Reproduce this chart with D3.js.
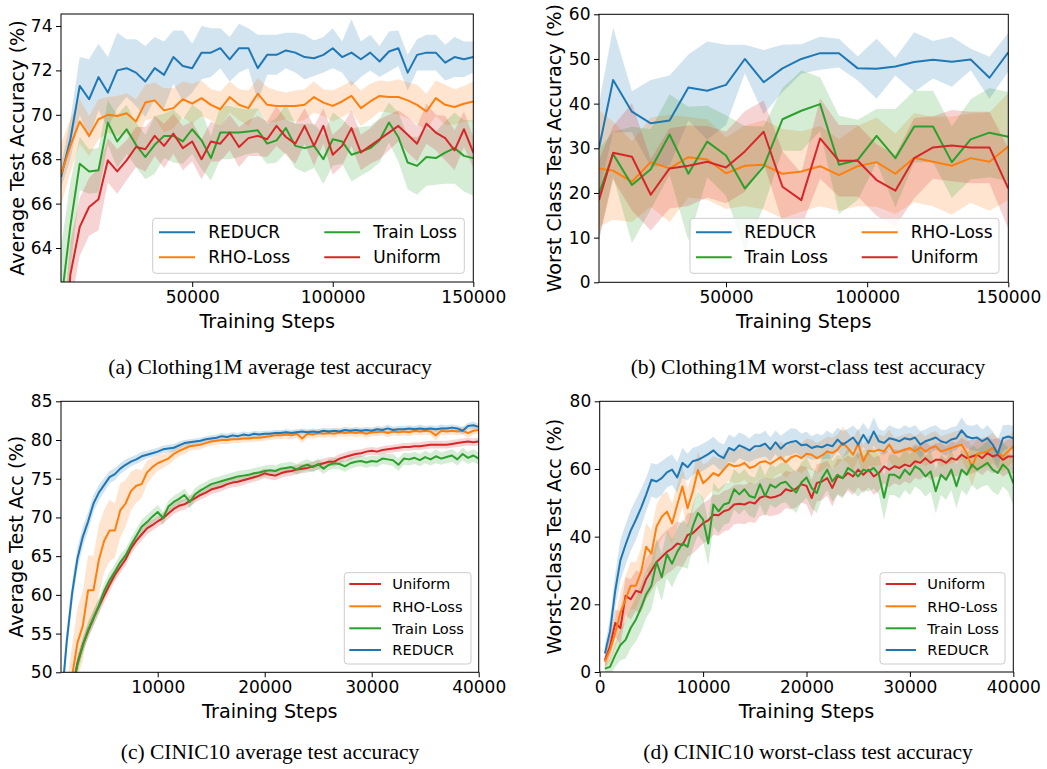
<!DOCTYPE html>
<html><head><meta charset="utf-8">
<script src="https://cdn.jsdelivr.net/npm/d3@7"></script>
<style>body{margin:0;background:#fff}svg{display:block}</style>
</head><body>
<svg id="c" width="1047" height="769"></svg>
<script>
// ---------------- DATA ----------------
const methods = ["REDUCR", "RHO-Loss", "Train Loss", "Uniform"];
const colors = ["#1f77b4", "#ff7f0e", "#2ca02c", "#d62728"];

// (a) Clothing1M average test accuracy
const stepsA = [3333,6667,10000,13333,16667,20000,23333,26667,30000,33333,36667,40000,43333,46667,50000,53333,56667,60000,63333,66667,70000,73333,76667,80000,83333,86667,90000,93333,96667,100000,103333,106667,110000,113333,116667,120000,123333,126667,130000,133333,136667,140000,143333,146667,150000];
const reducrA = [67.2,68.9,71.3,70.7,71.7,71.0,72.0,72.1,71.9,71.5,72.1,71.8,72.6,72.2,72.1,72.8,72.8,73.0,72.5,73.0,73.0,72.1,72.7,72.7,72.9,72.8,72.6,72.55,72.7,73.0,72.6,72.8,72.5,72.8,72.4,72.85,73.0,71.9,72.7,72.8,72.8,72.35,72.6,72.5,72.6];
const reducrA_sd = [0.5,0.9,1.3,1.8,1.5,1.6,1.7,1.3,1.5,1.6,1.4,1.5,1.2,1.6,1.1,1.2,1.1,0.9,1.0,1.1,0.9,1.5,0.9,0.9,0.8,0.9,1.0,0.8,0.8,0.9,0.7,1.5,0.8,0.8,0.7,0.9,0.8,0.8,0.7,0.8,0.8,0.8,0.9,0.8,0.7];
const rhoA = [67.3,68.6,69.7,69.05,69.8,70.0,69.95,70.07,69.7,70.55,70.65,70.2,70.3,70.7,70.5,70.75,70.45,70.25,70.8,70.45,70.3,70.95,70.45,70.4,70.4,70.4,70.45,70.8,70.55,70.4,70.6,70.85,70.3,70.6,70.85,70.8,70.8,70.65,70.45,70.15,70.75,70.45,70.35,70.5,70.6];
const rhoA_sd = [1.4,1.2,1.0,0.9,0.9,0.8,0.9,0.9,1.0,0.8,0.8,1.0,0.9,0.8,0.9,0.8,0.7,0.8,0.7,0.7,0.8,0.7,0.8,0.7,0.6,0.7,0.7,0.7,0.6,0.7,0.7,0.7,0.8,0.8,0.7,0.7,0.8,0.8,0.9,0.8,0.8,0.9,0.8,0.8,0.9];
const trainA = [61.5,65.0,67.8,67.45,67.5,69.65,68.8,69.35,68.65,68.1,68.65,69.05,69.05,68.8,69.35,68.85,68.05,69.2,69.2,69.2,69.25,69.3,68.7,68.85,69.4,68.6,68.5,68.6,68.0,68.9,68.8,68.2,68.35,68.5,68.85,69.65,69.0,67.85,67.7,68.1,68.05,68.3,68.5,68.15,68.05];
const trainA_sd = [2.5,2.0,1.2,1.0,1.0,1.0,1.2,1.1,1.0,1.0,1.3,1.0,1.2,1.0,1.1,1.3,1.0,1.2,1.2,1.1,1.0,1.0,0.9,1.0,1.1,1.0,1.1,1.0,1.1,1.2,1.0,1.2,1.1,1.0,1.0,0.9,1.1,1.2,1.3,1.3,1.2,1.4,1.6,1.6,1.7];
const uniformA = [58.0,62.8,64.95,65.85,66.2,67.95,67.45,67.95,68.55,68.45,69.05,68.6,69.15,68.5,68.8,68.0,68.8,68.7,69.2,68.55,68.95,69.05,68.9,69.5,69.0,68.7,69.5,68.6,69.5,68.2,68.6,69.4,68.3,68.6,68.9,69.2,69.5,69.1,68.7,69.6,69.2,68.95,68.4,69.35,68.3];
const uniformA_sd = [1.5,1.5,1.3,1.3,1.4,1.0,1.0,0.9,0.9,1.0,0.9,1.0,0.9,1.0,0.9,0.9,0.9,0.8,0.8,0.9,0.8,0.9,0.8,0.9,0.8,0.9,0.8,0.9,0.8,0.9,0.9,0.8,0.8,0.8,0.9,0.8,0.7,0.8,0.8,0.9,0.8,1.0,0.9,0.8,0.7];
const ticksAx = [50000,100000,150000];
const ticksAy = [64,66,68,70,72,74];

// (b) Clothing1M worst-class test accuracy
const stepsB = [5000,10000,16667,23333,30000,36667,43333,50000,56667,63333,70000,76667,83333,90000,96667,103333,110000,116667,123333,130000,136667,143333,150000];
const reducrB = [30.0,45.3,38.2,35.6,36.2,43.6,42.9,44.2,50.0,44.8,47.9,50.0,51.3,51.3,47.9,47.8,48.3,49.3,49.8,49.4,49.9,45.8,51.5];
const reducrB_sd = [10,11.7,4.6,9.7,10.1,7.4,11,9,3.2,7.2,5.3,3.3,3.7,3.2,2.7,6.7,2.0,6.7,4.2,5.6,2.4,4.7,4.3];
const rhoB = [25.5,25.0,22.5,26.9,25.5,28.0,27.5,24.4,26.1,26.3,24.3,24.8,26.0,24.0,26.0,26.9,24.3,27.9,27.0,26.1,27.8,27.0,30.4];
const rhoB_sd = [13,11,9,10,12,9,9,8,9,10,10,9,9,8,9,10,9,10,10,11,10,11,12];
const trainB = [19.9,28.7,21.8,25.3,33.1,24.3,31.5,28.4,21.0,25.9,36.5,38.4,39.9,26.3,27.4,32.8,27.8,34.9,34.9,26.9,32.0,33.5,32.6];
const trainB_sd = [10,5,13,9,9,15,8,9,14,9,7,9,6,11,9,6,11,8,8,8,9,10,10];
const uniformB = [18.4,29.0,28.1,19.6,25.5,26.1,27.0,25.7,29.3,33.7,21.4,18.4,32.2,27.2,27.2,22.9,20.5,27.8,30.2,30.6,30.2,30.2,21.0];
const uniformB_sd = [9,6,12,8,9,9,8,8,9,7,8,6,9,8,8,8,8,9,7,8,8,8,9];
const ticksBx = [50000,100000,150000];
const ticksBy = [0,10,20,30,40,50,60];

// (c),(d) CINIC10 – evaluation steps
const stepsCD = [500,1000,1500,2000,2500,3000,3500,4000,4500,5000,5500,6000,6500,7000,7500,8000,8500,9000,9500,10000,10500,11000,11500,12000,12500,13000,13500,14000,14500,15000,15500,16000,16500,17000,17500,18000,18500,19000,19500,20000,20500,21000,21500,22000,22500,23000,23500,24000,24500,25000,25500,26000,26500,27000,27500,28000,28500,29000,29500,30000,30500,31000,31500,32000,32500,33000,33500,34000,34500,35000,35500,36000,36500,37000,37500,38000,38500,39000,39500,40000];

// (c) CINIC10 average test accuracy
const uniformC = [34.0,38.5,43.0,47.5,51.2,53.5,55.3,57.0,58.5,59.9,61.3,62.6,63.6,64.6,66.0,67.0,67.8,68.6,69.0,69.5,69.9,70.5,71.1,71.5,71.7,72.1,72.5,72.9,73.2,73.6,73.8,74.0,74.3,74.5,74.6,74.8,75.0,75.2,75.4,75.7,
75.5,75.4,75.7,75.9,76.0,76.2,76.3,76.4,76.6,76.8,77.0,77.2,77.2,77.6,77.8,78.0,78.2,78.3,78.5,78.6,78.5,78.7,78.8,78.9,79.0,79.1,79.1,79.2,79.2,79.3,79.4,79.4,79.4,79.4,79.5,79.6,79.7,79.8,79.7,79.8];
const uniformC_sd = [1.0,1.0,1.0,1.0,0.9,0.9,0.9,0.9,0.9,0.9,0.9,0.8,0.8,0.8,0.8,0.8,0.8,0.8,0.7,0.7,0.7,0.7,0.7,0.7,0.7,0.7,0.6,0.6,0.6,0.6,0.6,0.6,0.6,0.6,0.6,0.6,0.6,0.6,0.6,0.6,
0.6,0.6,0.6,0.6,0.6,0.6,0.6,0.6,0.6,0.6,0.6,0.6,0.6,0.6,0.6,0.6,0.5,0.5,0.5,0.5,0.5,0.5,0.5,0.5,0.5,0.5,0.5,0.5,0.5,0.5,0.5,0.5,0.5,0.5,0.5,0.5,0.5,0.5,0.5,0.5];
const rhoC = [35.0,40.0,45.0,49.5,53.8,56.0,60.6,60.6,64.5,67.0,68.3,68.3,70.9,71.8,73.4,74.1,74.3,75.8,76.5,77.0,77.3,77.6,78.2,78.6,78.9,79.2,79.3,79.4,79.6,79.8,79.9,80.0,80.0,80.1,80.1,80.2,80.2,80.3,80.3,80.4,
80.5,80.6,80.6,80.7,80.6,80.8,80.2,80.8,80.7,80.9,80.8,80.9,80.8,81.0,80.9,81.0,80.9,81.0,80.8,81.0,81.0,81.1,80.9,81.1,81.0,81.1,81.0,81.2,81.1,81.2,81.1,80.6,81.2,81.1,81.2,81.1,81.2,80.9,81.2,81.3];
const rhoC_sd = [2.5,3.0,3.5,4.0,4.5,4.5,4.5,4.5,4.5,4.0,4.0,3.5,3.5,3.0,2.5,2.2,1.8,1.5,1.2,1.0,0.9,0.8,0.8,0.7,0.7,0.6,0.6,0.6,0.5,0.5,0.5,0.5,0.5,0.5,0.5,0.5,0.5,0.5,0.5,0.5,
0.5,0.5,0.5,0.5,0.5,0.5,0.6,0.5,0.5,0.5,0.5,0.5,0.5,0.5,0.5,0.5,0.5,0.5,0.5,0.5,0.5,0.5,0.5,0.5,0.5,0.5,0.5,0.5,0.5,0.5,0.5,0.7,0.5,0.5,0.5,0.5,0.5,0.6,0.5,0.5];
const trainC = [35.0,39.0,43.0,47.5,51.0,53.5,55.5,57.0,58.6,60.5,61.9,63.0,64.2,65.1,66.4,67.6,68.8,69.4,70.1,70.7,69.9,71.4,72.0,72.4,72.9,72.0,73.0,73.5,73.9,74.3,74.5,74.7,74.9,75.1,75.3,75.4,75.5,75.7,75.8,76.0,
76.1,76.0,76.3,76.4,76.5,76.2,76.6,76.8,76.5,76.9,76.3,76.8,77.0,76.9,76.6,77.0,77.2,77.3,77.1,77.3,77.2,77.6,77.5,77.4,76.8,77.6,77.5,77.7,77.4,77.8,77.5,77.9,77.6,77.8,78.0,77.5,78.2,77.7,78.0,77.6];
const trainC_sd = [1.2,1.2,1.2,1.2,1.1,1.1,1.1,1.1,1.0,1.0,1.0,1.0,1.0,0.9,0.9,0.9,0.9,0.9,0.9,0.9,0.8,0.8,0.8,0.8,0.8,0.8,0.8,0.8,0.7,0.7,0.7,0.7,0.7,0.7,0.7,0.7,0.7,0.7,0.7,0.7,
0.7,0.7,0.7,0.7,0.7,0.7,0.7,0.7,0.7,0.7,0.7,0.7,0.7,0.7,0.7,0.7,0.7,0.7,0.7,0.7,0.7,0.7,0.7,0.8,0.8,0.8,0.8,0.8,0.8,0.8,0.8,0.9,0.8,0.8,0.8,0.8,0.8,0.8,0.8,0.8];
const reducrC = [40.0,46.0,54.0,60.2,64.7,67.5,69.5,71.8,73.2,74.2,75.2,75.6,76.3,76.8,77.2,77.5,77.9,78.1,78.3,78.5,78.8,78.9,79.0,79.3,79.6,79.7,79.8,79.9,80.1,80.2,80.3,80.5,80.4,80.6,80.5,80.7,80.6,80.8,80.7,80.8,
80.8,80.9,80.9,81.0,80.9,81.0,81.1,81.0,81.1,81.0,81.2,81.1,81.2,81.1,81.3,81.2,81.3,81.2,81.3,81.2,81.4,81.3,81.5,81.3,81.4,81.4,81.5,81.4,81.5,81.4,81.5,81.4,81.5,81.5,81.6,81.5,81.2,81.8,81.9,81.7];
const reducrC_sd = [1.5,1.5,1.5,1.5,1.4,1.3,1.2,1.1,1.0,0.9,0.8,0.8,0.7,0.7,0.6,0.6,0.6,0.5,0.5,0.5,0.5,0.5,0.5,0.5,0.4,0.4,0.4,0.4,0.4,0.4,0.4,0.4,0.4,0.4,0.4,0.4,0.4,0.4,0.4,0.4,
0.4,0.4,0.4,0.4,0.4,0.4,0.4,0.4,0.4,0.4,0.4,0.4,0.4,0.4,0.4,0.4,0.4,0.4,0.4,0.4,0.4,0.4,0.5,0.4,0.4,0.4,0.4,0.4,0.5,0.4,0.4,0.4,0.5,0.4,0.4,0.4,0.5,0.4,0.5,0.4];
const ticksCx = [10000,20000,30000,40000];
const ticksCy = [50,55,60,65,70,75,80,85];

// (d) CINIC10 worst-class test accuracy
const uniformD = [3.5,7.5,14.5,13.0,22.5,21.5,24.0,23.5,27.5,30.0,32.5,34.0,35.5,36.5,38.0,37.5,40.5,41.0,42.5,44.0,44.8,46.5,46.3,47.5,48.0,49.5,49.7,49.5,50.2,49.8,51.5,52.0,51.5,51.8,52.4,54.0,53.5,54.2,55.5,55.0,
51.4,55.9,56.3,57.3,54.4,57.8,57.3,58.8,57.8,59.8,58.3,59.8,57.8,58.8,60.8,59.8,60.8,60.3,61.3,60.8,62.3,61.8,63.2,61.8,62.7,62.7,61.8,63.2,62.7,64.2,63.2,63.7,64.2,63.2,64.7,63.7,64.2,62.7,63.7,63.7];
const uniformD_sd = [2.0,3.0,4.0,5.0,5.5,6.0,6.0,6.0,6.0,6.0,6.0,6.5,6.5,6.5,6.5,6.5,6.5,6.0,6.0,6.0,6.0,6.0,6.0,6.0,6.0,5.8,5.8,5.8,5.8,5.8,5.5,5.5,5.5,5.5,5.5,5.5,5.5,5.5,5.5,5.5,
5.5,5.5,5.5,5.2,5.5,5.2,5.5,5.2,5.5,5.2,5.5,5.2,5.5,5.2,5.0,5.2,5.0,5.2,5.0,5.2,5.0,5.0,5.0,5.0,5.0,5.0,5.0,5.0,5.0,5.0,5.0,5.0,5.0,5.0,5.0,5.0,5.0,5.0,5.0,5.0];
const rhoD = [3.0,6.6,11.5,17.5,21.5,25.5,25.5,29.5,37.0,35.0,43.0,45.9,47.4,43.9,49.4,54.8,48.4,53.3,59.7,55.8,57.2,58.8,58.0,59.8,61.5,60.8,61.0,61.8,60.3,60.8,62.0,62.3,61.5,62.5,63.5,62.0,63.4,64.0,63.2,64.5,
64.2,63.2,64.0,65.2,64.7,65.7,67.7,66.2,64.2,67.5,62.3,65.4,65.2,65.7,65.2,67.2,64.7,65.2,65.7,66.2,65.2,66.4,65.2,66.2,66.7,65.2,65.7,66.2,66.7,67.2,64.7,60.5,64.5,64.7,65.2,66.2,64.7,63.7,65.2,66.7];
const rhoD_sd = [2.0,3.5,4.5,6.0,7.0,7.0,7.0,7.0,7.0,7.0,6.5,6.5,6.0,6.0,6.0,6.0,6.0,5.5,5.5,5.5,5.0,5.0,5.0,5.0,5.0,5.0,5.0,5.0,4.8,4.8,4.8,4.8,4.8,4.6,4.6,4.6,4.6,4.5,4.5,4.5,
4.5,4.5,4.5,4.5,4.5,4.5,4.8,4.5,4.5,4.5,4.8,4.5,4.5,4.5,4.5,4.5,4.5,4.5,4.5,4.5,4.5,4.5,4.5,4.5,4.5,4.5,4.5,4.5,4.5,4.5,5.0,5.5,4.8,4.5,4.5,4.5,4.5,4.5,4.5,4.5];
const trainD = [1.0,1.5,5.0,8.0,9.5,13.0,15.5,19.0,23.0,25.5,32.5,28.0,34.8,32.0,35.5,38.0,37.0,43.0,47.0,45.0,38.0,49.5,47.5,49.5,50.0,54.0,52.5,54.0,52.0,51.5,55.5,52.0,55.4,54.5,55.8,56.2,54.5,53.0,56.0,57.5,
54.4,52.9,57.3,59.8,56.3,58.3,57.3,60.3,59.3,57.8,59.8,59.3,60.3,58.3,51.5,58.3,58.3,57.3,59.8,58.3,60.8,59.8,57.8,59.3,53.4,58.3,56.8,59.8,54.9,59.8,58.3,61.3,59.8,60.8,61.8,59.8,58.8,61.3,59.8,55.8];
const trainD_sd = [1.5,2.5,3.5,4.5,5.5,6.0,6.5,7.0,7.0,7.0,7.0,7.0,7.0,7.0,7.0,7.0,6.5,6.5,6.5,6.5,6.5,6.5,6.5,6.0,6.0,6.0,6.0,6.0,6.0,6.0,6.0,6.0,6.0,6.0,6.0,6.0,6.0,6.0,6.0,6.0,
6.0,6.0,6.0,6.0,6.0,6.0,6.0,6.0,6.0,6.0,6.0,6.0,6.0,6.0,6.5,6.0,6.0,6.0,6.0,6.0,6.0,6.0,6.0,6.0,6.5,6.0,6.0,6.0,6.5,6.0,6.0,6.0,6.0,6.0,6.5,6.5,6.5,6.5,6.5,6.5];
const reducrD = [5.5,12.0,24.0,33.0,37.6,41.8,45.0,48.5,52.5,56.8,56.3,57.3,59.0,59.8,57.5,61.8,60.5,62.3,62.7,63.5,64.4,65.5,64.0,63.2,66.2,65.5,67.0,66.3,65.5,66.7,66.8,67.5,65.8,67.9,66.0,67.4,68.0,68.3,67.0,67.2,
66.2,66.7,66.4,67.2,66.7,68.7,67.2,68.2,69.3,67.2,70.1,67.7,71.1,68.2,67.7,69.1,68.7,68.2,69.1,68.7,69.3,67.2,68.2,68.7,69.3,68.2,67.7,68.7,69.1,71.4,69.6,69.1,69.3,68.2,69.1,67.2,64.5,69.1,69.6,69.1];
const reducrD_sd = [2.5,4.0,5.0,6.0,6.0,6.0,6.0,5.5,5.0,5.0,5.0,5.0,4.5,4.5,4.5,4.5,4.0,4.0,4.0,4.0,4.0,4.0,4.0,4.0,4.0,3.8,3.8,3.8,3.5,3.8,3.5,3.8,3.5,3.5,3.8,3.5,4.0,3.5,3.5,3.8,
3.5,3.8,3.5,4.2,3.6,3.5,4.0,3.6,3.5,4.2,3.5,3.8,4.2,3.6,3.5,3.8,3.5,3.6,3.8,3.5,3.6,4.0,3.5,3.8,3.6,3.5,3.8,3.6,3.5,3.8,3.5,3.6,4.0,3.5,3.8,4.0,4.2,3.8,3.5,3.6];
const ticksDx = [0,10000,20000,30000,40000];
const ticksDy = [0,20,40,60,80];

// ---------------- DRAWING ----------------
const svg = d3.select("#c");
const defs = svg.append("defs");
const FONT = "DejaVu Sans, Verdana, sans-serif";
const colorOf = m => colors[methods.indexOf(m)];

function panel(cfg) {
  const x = d3.scaleLinear().domain(cfg.xDomain).range([cfg.left, cfg.right]);
  const y = d3.scaleLinear().domain(cfg.yDomain).range([cfg.bottom, cfg.top]);
  const cid = "clip" + cfg.id;
  defs.append("clipPath").attr("id", cid).append("rect")
    .attr("x", cfg.left).attr("y", cfg.top)
    .attr("width", cfg.right - cfg.left).attr("height", cfg.bottom - cfg.top);
  const g = svg.append("g");
  const plot = g.append("g").attr("clip-path", `url(#${cid})`);
  cfg.series.forEach(s => {
    const area = d3.area()
      .x((d, i) => x(cfg.steps[i]))
      .y0((d, i) => y(d - s.sd[i]))
      .y1((d, i) => y(d + s.sd[i]));
    plot.append("path").datum(s.mean).attr("d", area)
      .attr("fill", colorOf(s.name)).attr("fill-opacity", 0.2).attr("stroke", "none");
  });
  cfg.series.forEach(s => {
    const line = d3.line().x((d, i) => x(cfg.steps[i])).y(d => y(d));
    plot.append("path").datum(s.mean).attr("d", line)
      .attr("fill", "none").attr("stroke", colorOf(s.name)).attr("stroke-width", 2)
      .attr("stroke-linejoin", "round");
  });
  // axes
  const ax = g.append("g").attr("transform", `translate(0,${cfg.bottom})`)
    .call(d3.axisBottom(x).tickValues(cfg.xTicks).tickFormat(d3.format("d")).tickSize(5).tickPadding(4));
  const ay = g.append("g").attr("transform", `translate(${cfg.left},0)`)
    .call(d3.axisLeft(y).tickValues(cfg.yTicks).tickFormat(d3.format("d")).tickSize(5).tickPadding(3.5));
  [ax, ay].forEach(a => {
    a.select(".domain").remove();
    a.selectAll("text").attr("font-family", FONT).attr("font-size", 17).attr("fill", "#000");
    a.selectAll("line").attr("stroke", "#000").attr("stroke-width", 1);
  });
  g.append("rect").attr("x", cfg.left).attr("y", cfg.top)
    .attr("width", cfg.right - cfg.left).attr("height", cfg.bottom - cfg.top)
    .attr("fill", "none").attr("stroke", "#000").attr("stroke-width", 1);
  // labels
  g.append("text").attr("x", (cfg.left + cfg.right) / 2).attr("y", cfg.xlabY)
    .attr("text-anchor", "middle").attr("font-family", FONT).attr("font-size", 19.2).text(cfg.xlabel);
  g.append("text").attr("transform", `translate(${cfg.ylabX},${(cfg.top + cfg.bottom) / 2}) rotate(-90)`)
    .attr("text-anchor", "middle").attr("font-family", FONT).attr("font-size", 19.2).text(cfg.ylabel);
  // caption
  g.append("text").attr("x", cfg.capX).attr("y", cfg.capY).attr("text-anchor", "middle")
    .attr("font-family", "Liberation Serif, Times New Roman, serif").attr("font-size", 21.5).text(cfg.caption);
  // legend
  const L = cfg.legend;
  const lg = g.append("g");
  lg.append("rect").attr("x", L.x0).attr("y", L.y0).attr("width", L.x1 - L.x0).attr("height", L.y1 - L.y0)
    .attr("rx", 3).attr("fill", "#fff").attr("fill-opacity", 0.8).attr("stroke", "#cccccc").attr("stroke-width", 1);
  L.items.forEach(it => {
    lg.append("line").attr("x1", it.hx0).attr("x2", it.hx1).attr("y1", it.y).attr("y2", it.y)
      .attr("stroke", colorOf(it.name)).attr("stroke-width", 2);
    lg.append("text").attr("x", it.tx).attr("y", it.y).attr("dy", "0.36em")
      .attr("font-family", FONT).attr("font-size", L.fs).text(it.name);
  });
}

panel({
  id: "a", left: 61, right: 473.3, top: 14, bottom: 282,
  xDomain: [stepsA[0], 150000], yDomain: [62.47, 74.54], steps: stepsA,
  xTicks: ticksAx, yTicks: ticksAy,
  series: [
    {name: "REDUCR", mean: reducrA, sd: reducrA_sd},
    {name: "RHO-Loss", mean: rhoA, sd: rhoA_sd},
    {name: "Train Loss", mean: trainA, sd: trainA_sd},
    {name: "Uniform", mean: uniformA, sd: uniformA_sd}],
  xlabel: "Training Steps", xlabY: 327.5,
  ylabel: "Average Test Accuracy (%)", ylabX: 23.5,
  caption: "(a) Clothing1M average test accuracy", capX: 270, capY: 374,
  legend: {x0: 152.7, x1: 464.3, y0: 218.3, y1: 273.3, fs: 17, items: [
    {name: "REDUCR", hx0: 159, hx1: 195, tx: 208.3, y: 232.3},
    {name: "RHO-Loss", hx0: 159, hx1: 195, tx: 208.3, y: 257.3},
    {name: "Train Loss", hx0: 324.3, hx1: 360, tx: 373.3, y: 232.3},
    {name: "Uniform", hx0: 324.3, hx1: 360, tx: 373.3, y: 257.3}]}
});

panel({
  id: "b", left: 599, right: 1008.3, top: 14.3, bottom: 282.3,
  xDomain: [stepsB[0], 150000], yDomain: [0, 60], steps: stepsB,
  xTicks: ticksBx, yTicks: ticksBy,
  series: [
    {name: "REDUCR", mean: reducrB, sd: reducrB_sd},
    {name: "RHO-Loss", mean: rhoB, sd: rhoB_sd},
    {name: "Train Loss", mean: trainB, sd: trainB_sd},
    {name: "Uniform", mean: uniformB, sd: uniformB_sd}],
  xlabel: "Training Steps", xlabY: 327.5,
  ylabel: "Worst Class Test Accuracy (%)", ylabX: 561.4,
  caption: "(b) Clothing1M worst-class test accuracy", capX: 808, capY: 374,
  legend: {x0: 690, x1: 999, y0: 218.3, y1: 273.3, fs: 17, items: [
    {name: "REDUCR", hx0: 696, hx1: 731.7, tx: 744.3, y: 232.3},
    {name: "Train Loss", hx0: 696, hx1: 731.7, tx: 744.3, y: 257.3},
    {name: "RHO-Loss", hx0: 861.7, hx1: 897.7, tx: 910.7, y: 232.3},
    {name: "Uniform", hx0: 861.7, hx1: 897.7, tx: 910.7, y: 257.3}]}
});

panel({
  id: "c", left: 61, right: 478.7, top: 401.3, bottom: 672.3,
  xDomain: [963, 40000], yDomain: [50, 85], steps: stepsCD,
  xTicks: ticksCx, yTicks: ticksCy,
  series: [
    {name: "Uniform", mean: uniformC, sd: uniformC_sd},
    {name: "RHO-Loss", mean: rhoC, sd: rhoC_sd},
    {name: "Train Loss", mean: trainC, sd: trainC_sd},
    {name: "REDUCR", mean: reducrC, sd: reducrC_sd}],
  xlabel: "Training Steps", xlabY: 717.5,
  ylabel: "Average Test Acc (%)", ylabX: 22.6,
  caption: "(c) CINIC10 average test accuracy", capX: 270, capY: 759,
  legend: {x0: 344.3, x1: 471, y0: 572.7, y1: 664, fs: 14.6, items: [
    {name: "Uniform", hx0: 349.3, hx1: 381, tx: 392.3, y: 584},
    {name: "RHO-Loss", hx0: 349.3, hx1: 381, tx: 392.3, y: 606.3},
    {name: "Train Loss", hx0: 349.3, hx1: 381, tx: 392.3, y: 628.3},
    {name: "REDUCR", hx0: 349.3, hx1: 381, tx: 392.3, y: 650}]}
});

panel({
  id: "d", left: 599.7, right: 1013.3, top: 401.3, bottom: 672,
  xDomain: [0, 40000], yDomain: [0, 80], steps: stepsCD,
  xTicks: ticksDx, yTicks: ticksDy,
  series: [
    {name: "Uniform", mean: uniformD, sd: uniformD_sd},
    {name: "RHO-Loss", mean: rhoD, sd: rhoD_sd},
    {name: "Train Loss", mean: trainD, sd: trainD_sd},
    {name: "REDUCR", mean: reducrD, sd: reducrD_sd}],
  xlabel: "Training Steps", xlabY: 717.5,
  ylabel: "Worst-Class Test Acc (%)", ylabX: 561.2,
  caption: "(d) CINIC10 worst-class test accuracy", capX: 808, capY: 759,
  legend: {x0: 880, x1: 1005, y0: 572.7, y1: 664, fs: 14.6, items: [
    {name: "Uniform", hx0: 885.7, hx1: 916, tx: 927.3, y: 584},
    {name: "RHO-Loss", hx0: 885.7, hx1: 916, tx: 927.3, y: 606.3},
    {name: "Train Loss", hx0: 885.7, hx1: 916, tx: 927.3, y: 628.3},
    {name: "REDUCR", hx0: 885.7, hx1: 916, tx: 927.3, y: 650}]}
});
</script>
</body></html>
